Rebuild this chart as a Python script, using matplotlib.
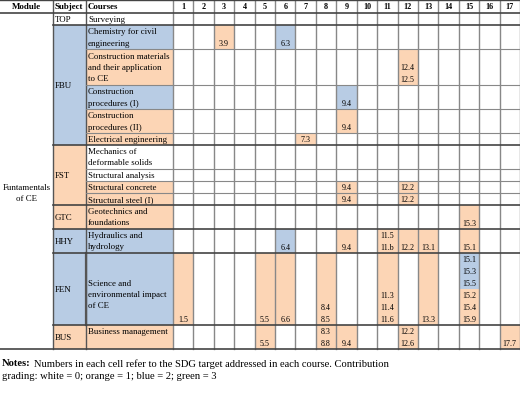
import matplotlib
matplotlib.use("Agg")
import matplotlib.pyplot as plt
from matplotlib.patches import Rectangle

W, H = 520, 402
ORANGE = "#FCD5B5"
BLUE = "#B8CCE4"
WHITE = "white"
C = {"w": WHITE, "o": ORANGE, "b": BLUE}

# table content
courses = ["Surveying", "Chemistry for civil\nengineering",
           "Construction materials\nand their application\nto CE",
           "Construction\nprocedures (I)", "Construction\nprocedures (II)",
           "Electrical engineering", "Mechanics of\ndeformable solids",
           "Structural analysis", "Structural concrete", "Structural steel (I)",
           "Geotechnics and\nfoundations", "Hydraulics and\nhydrology",
           "\n\nScience and\nenvironmental impact\nof CE\n", "Business management\n"]
row_lines = [1, 2, 3, 2, 2, 1, 2, 1, 1, 1, 2, 2, 6, 2]
course_colors = ["w", "b", "o", "b", "o", "o", "w", "w", "o", "o", "o", "b", "b", "o"]
subjects = [("TOP", 0, 1, "w"), ("FBU", 1, 6, "b"), ("FST", 6, 10, "o"),
            ("GTC", 10, 11, "o"), ("HHY", 11, 12, "b"), ("FEN", 12, 13, "b"),
            ("BUS", 13, 14, "o")]
# (row, column, values, colour per value)
cells = [
    (1, 3, ["3.9"], "o"), (1, 6, ["6.3"], "b"),
    (2, 12, ["12.4", "12.5"], "oo"),
    (3, 9, ["9.4"], "b"), (4, 9, ["9.4"], "o"), (5, 7, ["7.3"], "o"),
    (8, 9, ["9.4"], "o"), (8, 12, ["12.2"], "o"),
    (9, 9, ["9.4"], "o"), (9, 12, ["12.2"], "o"),
    (10, 15, ["15.3"], "o"),
    (11, 6, ["6.4"], "b"), (11, 9, ["9.4"], "o"), (11, 11, ["11.5", "11.b"], "oo"),
    (11, 12, ["12.2"], "o"), (11, 13, ["13.1"], "o"), (11, 15, ["15.1"], "o"),
    (12, 1, ["1.5"], "o"), (12, 5, ["5.5"], "o"), (12, 6, ["6.6"], "o"),
    (12, 8, ["8.4", "8.5"], "oo"), (12, 11, ["11.3", "11.4", "11.6"], "ooo"),
    (12, 13, ["13.3"], "o"),
    (12, 15, ["15.1", "15.3", "15.5", "15.2", "15.4", "15.9"], "bbbooo"),
    (13, 5, ["5.5"], "o"), (13, 8, ["8.3", "8.8"], "oo"), (13, 9, ["9.4"], "o"),
    (13, 12, ["12.2", "12.6"], "oo"), (13, 17, ["17.7"], "o"),
]
note1 = "Numbers in each cell refer to the SDG target addressed in each course. Contribution"
note2 = "grading: white = 0; orange = 1; blue = 2; green = 3"

plt.rcParams["font.family"] = ["Liberation Serif", "DejaVu Serif"]
fig = plt.figure(figsize=(W / 100, H / 100), dpi=100)
ax = fig.add_axes([0, 0, 1, 1])
ax.set_xlim(0, W)
ax.set_ylim(H, 0)
ax.axis("off")

LH = 12.0
hdr = 14
x_mod, x_sub, x_crs, x_num, x_end = 0, 53, 86, 173, 520
cw = (x_end - x_num) / 17
FS = 6.4
GRAY = "#888888"

tops = [hdr]
for n in row_lines:
    tops.append(tops[-1] + n * LH)
y_end = tops[-1]

def rect(x0, y0, x1, y1, col):
    ax.add_patch(Rectangle((x0, y0), x1 - x0, y1 - y0, fc=col, ec="none", zorder=1))

# header
ax.text((x_mod + x_sub) / 2, hdr / 2, "Module", ha="center", va="center", fontsize=FS, weight="bold")
ax.text(x_sub + 2, hdr / 2, "Subject", ha="left", va="center", fontsize=FS, weight="bold")
ax.text(x_crs + 2, hdr / 2, "Courses", ha="left", va="center", fontsize=FS, weight="bold")
for j in range(17):
    ax.text(x_num + (j + 0.5) * cw, hdr / 2, str(j + 1), ha="center", va="center",
            fontsize=FS - 0.5, weight="bold")

ax.text((x_mod + x_sub) / 2, (hdr + y_end) / 2 + 12, "Funtamentals\nof CE", ha="center",
        va="center", fontsize=FS, linespacing=1.5)

for name, r0, r1, col in subjects:
    rect(x_sub, tops[r0], x_crs, tops[r1], C[col])
    ax.text(x_sub + 2, (tops[r0] + tops[r1]) / 2, name, ha="left", va="center", fontsize=FS)

for i, (name, col) in enumerate(zip(courses, course_colors)):
    rect(x_crs, tops[i], x_num, tops[i + 1], C[col])
    ax.text(x_crs + 2, (tops[i] + tops[i + 1]) / 2, name, ha="left", va="center",
            fontsize=FS, linespacing=1.5)

for r, c, vals, cols in cells:
    x0 = x_num + (c - 1) * cw
    n = len(vals)
    rect(x0, tops[r], x0 + cw, tops[r + 1] - n * LH, C[cols[0]])
    for k, (v, cc) in enumerate(zip(vals, cols)):
        yb = tops[r + 1] - (n - k) * LH
        rect(x0, yb, x0 + cw, yb + LH, C[cc])
        ax.text(x0 + cw / 2, yb + LH / 2 + 0.5, v, ha="center", va="center", fontsize=FS - 0.6)

# grid lines
for j in range(18):
    x = x_num + j * cw
    ax.plot([x, x], [0, y_end], color=GRAY, lw=1.0, zorder=3)
for x in (x_sub, x_crs):
    ax.plot([x, x], [0, y_end], color="#555555", lw=1.0, zorder=3)
ax.plot([x_crs, x_crs], [tops[12], tops[13]], color="#555555", lw=1.6, zorder=3)
group_edges = {s[1] for s in subjects} | {len(tops) - 1}
for i, y in enumerate(tops):
    if i == 0 or i == len(tops) - 1:
        x_start = x_mod
    elif i in group_edges:
        x_start = x_sub
    else:
        x_start = x_crs
    thick = i in (0, 1, 6, 10, 11, 12, 13, len(tops) - 1)
    ax.plot([x_start, x_end], [y, y], color="#444444" if thick else GRAY,
            lw=1.2 if thick else 0.8, zorder=3)
ax.plot([x_mod, x_end], [0.5, 0.5], color="#444444", lw=1.0, zorder=3)

t = ax.text(2, 364, "Notes:", ha="left", va="center", fontsize=7.6, weight="bold")
fig.canvas.draw()
bb = t.get_window_extent()
ax.text(2 + bb.width + 3, 364, note1, ha="left", va="center", fontsize=7.6)
ax.text(2, 377, note2, ha="left", va="center", fontsize=7.6)

fig.savefig("out.png", dpi=100)
